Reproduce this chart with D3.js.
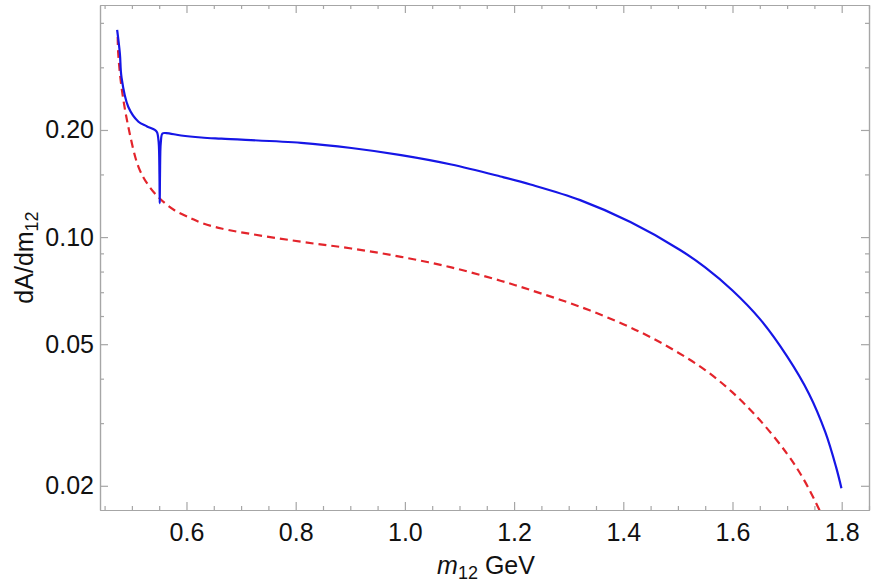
<!DOCTYPE html>
<html>
  <head>
    <meta charset="utf-8">
    <title>dA/dm12</title>
    <script src="https://cdn.jsdelivr.net/npm/d3@7"></script>
    <style>
      body { margin: 0; background: #fff; }
      text { font-family: "Liberation Sans", Arial, sans-serif; fill: #111; }
    </style>
  </head>

  <body>
    <svg id="chart" width="871" height="587"></svg>

    <script>
      // data
      blueM = [0.473, 0.478, 0.481, 0.4935, 0.512, 0.527, 0.542, 0.546, 0.549, 0.5505, 0.551, 0.5515, 0.553, 0.556, 0.563, 0.590, 0.627, 0.664, 0.810, 0.902, 0.993, 1.085, 1.175, 1.230, 1.321, 1.413, 1.504, 1.55, 1.60, 1.65, 1.70, 1.74, 1.77, 1.79, 1.7995];
      blueA = [0.382, 0.328, 0.281, 0.232, 0.211, 0.205, 0.200, 0.197, 0.185, 0.150, 0.1246, 0.150, 0.185, 0.1955, 0.196, 0.193, 0.1905, 0.189, 0.184, 0.178, 0.170, 0.160, 0.148, 0.1405, 0.127, 0.1102, 0.092, 0.0822, 0.0708, 0.0589, 0.0462, 0.0363, 0.0283, 0.0225, 0.0197];
      redM = [0.474, 0.475, 0.481, 0.4935, 0.512, 0.530, 0.551, 0.578, 0.609, 0.627, 0.664, 0.810, 0.902, 0.993, 1.085, 1.175, 1.230, 1.321, 1.40, 1.45, 1.50, 1.55, 1.60, 1.65, 1.70, 1.73, 1.76, 1.77];
      redA = [0.365, 0.328, 0.264, 0.204, 0.1576, 0.140, 0.1284, 0.119, 0.1128, 0.1097, 0.1057, 0.097, 0.0929, 0.088, 0.0822, 0.0754, 0.071, 0.0637, 0.0569, 0.0523, 0.0474, 0.0423, 0.0366, 0.0306, 0.0246, 0.0209, 0.0170, 0.0157];
      xMajor = [0.6, 0.8, 1.0, 1.2, 1.4, 1.6, 1.8];
      xMinor = [0.45, 0.5, 0.55, 0.65, 0.7, 0.75, 0.85, 0.9, 0.95, 1.05, 1.1, 1.15, 1.25, 1.3, 1.35, 1.45, 1.5, 1.55, 1.65, 1.7, 1.75, 1.85];
      yMajor = [0.02, 0.05, 0.10, 0.20];
      yLabels = ["0.02", "0.05", "0.10", "0.20"];
      yMinor = [0.03, 0.04, 0.06, 0.07, 0.08, 0.09, 0.15, 0.3, 0.4];

      svg = d3.select("#chart");
      left = 100; right = 869; top_ = 5; bottom = 510;

      x = d3.scaleLinear()
        .domain([0.4416, 1.85])
        .range([left, right]);
      y = d3.scaleLog()
        .domain([0.0171, 0.449])
        .range([bottom, top_]);

      svg.append("defs")
        .append("clipPath")
          .attr("id", "plotClip")
        .append("rect")
          .attr("x", left)
          .attr("y", top_)
          .attr("width", right - left)
          .attr("height", bottom - top_);

      // axes: inward ticks on all four sides, like Mathematica's frame
      function tickAxis(axisFn, scale, values, size, pad, labels) {
        return axisFn(scale)
          .tickValues(values)
          .tickSizeInner(-size)
          .tickSizeOuter(0)
          .tickPadding(pad)
          .tickFormat(labels ? function(d, i) { return labels[i]; } : "");
      }

      axes = [
        [d3.axisBottom, x, bottom, "x"],
        [d3.axisTop, x, top_, "x"],
        [d3.axisLeft, y, left, "y"],
        [d3.axisRight, y, right, "y"]
      ];
      axes.forEach(function(a, k) {
        let major = a[3] === "x" ? xMajor : yMajor;
        let minor = a[3] === "x" ? xMinor : yMinor;
        let pad = a[3] === "x" ? 13 : 6;
        let transform = a[3] === "x" ? "translate(0," + a[2] + ")" : "translate(" + a[2] + ",0)";
        let g = svg.append("g").attr("transform", transform);
        g.append("g")
          .call(tickAxis(a[0], a[1], minor, 4, pad, null));
        let labels = null;
        if (k === 0) labels = xMajor.map(function(d) { return d.toFixed(1); });
        if (k === 2) labels = yLabels;
        g.append("g")
          .call(tickAxis(a[0], a[1], major, 8, pad, labels));
        g.selectAll("path, line")
          .attr("stroke", "#a6a6a6")
          .attr("stroke-width", 1.2);
        g.selectAll("text")
          .style("font-size", "25px")
          .attr("fill", "#111");
      });

      svg.selectAll("g > g > g.tick text")
        .filter(function() { return this.textContent === ""; })
        .remove();

      // curves
      line = d3.line()
        .x(function(d) { return x(d[0]); })
        .y(function(d) { return y(d[1]); })
        .curve(d3.curveCatmullRom.alpha(0.5));

      plot = svg.append("g").attr("clip-path", "url(#plotClip)");
      plot.append("path")
        .datum(d3.zip(redM, redA))
        .attr("d", line)
        .attr("fill", "none")
        .attr("stroke", "#e3242b")
        .attr("stroke-width", 2.2)
        .attr("stroke-dasharray", "8,5");
      plot.append("path")
        .datum(d3.zip(blueM, blueA))
        .attr("d", line)
        .attr("fill", "none")
        .attr("stroke", "#1616e6")
        .attr("stroke-width", 2.2);

      // axis titles
      xTitle = svg.append("text")
        .attr("x", 486)
        .attr("y", 574)
        .attr("text-anchor", "middle")
        .style("font-size", "25px");
      xTitle.append("tspan").style("font-style", "italic").text("m");
      xTitle.append("tspan").attr("dy", 5).style("font-size", "18px").text("12");
      xTitle.append("tspan").attr("dy", -5).text(" GeV");

      yTitle = svg.append("text")
        .attr("transform", "translate(33," + (top_ + bottom) / 2 + ") rotate(-90)")
        .attr("text-anchor", "middle")
        .style("font-size", "25px");
      yTitle.append("tspan").text("dA/dm");
      yTitle.append("tspan").attr("dy", 5).style("font-size", "18px").text("12");
    </script>
  </body>
</html>
